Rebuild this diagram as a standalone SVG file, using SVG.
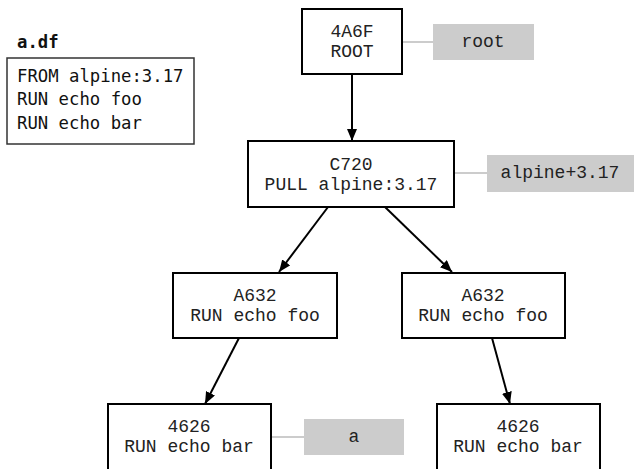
<svg xmlns="http://www.w3.org/2000/svg" width="636" height="469" viewBox="0 0 636 469">
<defs>
<style>
.node rect{fill:#fff;stroke:#000;stroke-width:2}
.node text{font-family:"Liberation Mono",monospace;font-size:18px;fill:#222;text-anchor:middle}
.lbl rect{fill:#cccccc}
.lbl text{font-family:"Liberation Mono",monospace;font-size:18px;fill:#222;text-anchor:middle}
.tie{stroke:#cccccc;stroke-width:2;fill:none}
.edge{stroke:#000;stroke-width:2;fill:none;marker-end:url(#ah)}
.code{font-family:"DejaVu Sans Mono",monospace;font-size:17.3px;fill:#111}
</style>
<marker id="ah" viewBox="0 0 12 10" refX="12" refY="5" markerWidth="12" markerHeight="10" markerUnits="userSpaceOnUse" orient="auto">
<path d="M0,0 L12,5 L0,10 z" fill="#000"/>
</marker>
</defs>
<rect width="636" height="469" fill="#fff"/>

<g id="dockerfile">
<text x="17" y="48" class="code" style="font-weight:bold">a.df</text>
<rect x="7" y="58" width="187" height="86" fill="#fff" stroke="#333" stroke-width="1.5"/>
<text x="17" y="82" class="code">FROM alpine:3.17</text>
<text x="17" y="105" class="code">RUN echo foo</text>
<text x="17" y="129" class="code">RUN echo bar</text>
</g>

<g id="ties">
<line class="tie" x1="402" y1="42" x2="433" y2="42"/>
<line class="tie" x1="454" y1="173" x2="487" y2="173"/>
<line class="tie" x1="271" y1="437" x2="304" y2="437"/>
</g>

<g id="connectors">
<line class="edge" x1="352" y1="74" x2="352" y2="141"/>
<line class="edge" x1="328" y1="207" x2="279" y2="272"/>
<line class="edge" x1="385" y1="207" x2="452" y2="272"/>
<line class="edge" x1="239" y1="338" x2="205" y2="404"/>
<line class="edge" x1="492" y1="338" x2="510" y2="404"/>
</g>

<g id="n-root" class="node">
<rect x="302" y="9" width="100" height="65"/>
<text x="352" y="37">4A6F</text>
<text x="352" y="57">ROOT</text>
</g>
<g id="n-c720" class="node">
<rect x="248" y="141" width="206" height="66"/>
<text x="351" y="170">C720</text>
<text x="351" y="190">PULL alpine:3.17</text>
</g>
<g id="n-a632-left" class="node">
<rect x="173" y="273" width="164" height="65"/>
<text x="255" y="301">A632</text>
<text x="255" y="321">RUN echo foo</text>
</g>
<g id="n-a632-right" class="node">
<rect x="402" y="273" width="163" height="65"/>
<text x="483" y="301">A632</text>
<text x="483" y="321">RUN echo foo</text>
</g>
<g id="n-4626-left" class="node">
<rect x="108" y="404" width="163" height="70"/>
<text x="189" y="432">4626</text>
<text x="189" y="452">RUN echo bar</text>
</g>
<g id="n-4626-right" class="node">
<rect x="437" y="404" width="163" height="70"/>
<text x="518" y="432">4626</text>
<text x="518" y="452">RUN echo bar</text>
</g>

<g id="l-root" class="lbl">
<rect x="433" y="24" width="101" height="36"/>
<text x="483" y="47">root</text>
</g>
<g id="l-alpine" class="lbl">
<rect x="487" y="155" width="147" height="37"/>
<text x="560" y="178">alpine+3.17</text>
</g>
<g id="l-a" class="lbl">
<rect x="304" y="419" width="100" height="36"/>
<text x="354" y="442">a</text>
</g>
</svg>
